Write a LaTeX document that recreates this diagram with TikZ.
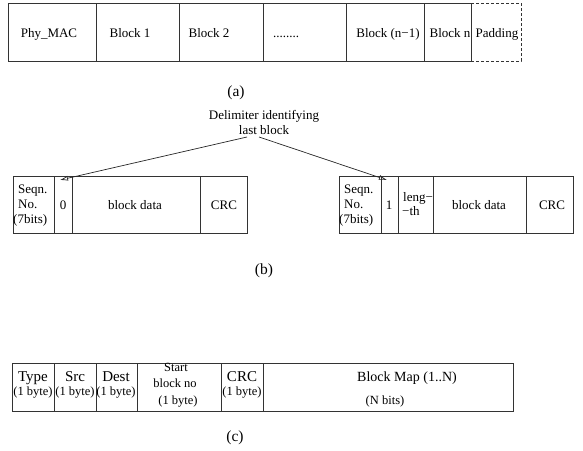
\documentclass[tikz,border=0pt]{standalone}
\usepackage{fontspec}
\setmainfont{Liberation Serif}
\usetikzlibrary{arrows.meta}
\newcommand\cellnode[6]{\node[cellbox, minimum width={(#3)-(#2)}, minimum height={(#5)-(#4)}] (#1) at ({((#2)+(#3))/2},{((#4)+(#5))/2}) {#6};}
\begin{document}
\begin{tikzpicture}[x=1pt,y=-1pt,
  cellbox/.style={draw=black!80, line width=0.9pt, inner sep=0pt, outer sep=0pt},
  padbox/.style={draw=black!80, line width=0.9pt, dashed, dash pattern=on 3pt off 2pt, inner sep=0pt, outer sep=0pt},
  lab/.style={inner sep=0pt, text height=9pt, text depth=3pt, font=\fontsize{13}{15}\selectfont},
  note/.style={inner sep=0pt, align=center, font=\fontsize{13}{15}\selectfont},
  big/.style={inner sep=0pt, text height=10.5pt, text depth=3.5pt, font=\fontsize{15}{17}\selectfont},
  mapfont/.style={inner sep=0pt, text height=10pt, text depth=3.3pt, font=\fontsize{14}{16}\selectfont},
  small/.style={inner sep=0pt, text height=8.7pt, text depth=3pt, font=\fontsize{12.5}{14}\selectfont},
  captext/.style={inner sep=0pt, text height=11pt, text depth=3.5pt, font=\fontsize{15.5}{17}\selectfont},
  pointer/.style={draw=black!85, line width=0.7pt, -{Latex[open,length=8pt,width=5pt]}}
]
\useasboundingbox (0,0) rectangle (583,450);

% (a)
\cellnode{phy}{8}{96}{3}{61}{}
\cellnode{b1}{96}{179}{3}{61}{}
\cellnode{b2}{179}{263}{3}{61}{}
\cellnode{bdots}{263}{346}{3}{61}{}
\cellnode{bn1}{346}{424}{3}{61}{}
\cellnode{bn}{424}{471}{3}{61}{}
\node[padbox, minimum width=50pt, minimum height=58pt] (pad) at (496,32) {};
\node[lab] (tphy) at (49,34) {Phy\_MAC};
\node[lab] (tb1) at (130,34) {Block 1};
\node[lab] (tb2) at (209,34) {Block 2};
\node[lab] (tdots) at (286,34) {........};
\node[lab] (tbn1) at (388,34) {Block (n\textminus1)};
\node[lab] (tbn) at (450,34) {Block n};
\node[lab] (tpad) at (497,34) {Padding};
\node[captext] (capa) at (236,93) {(a)};

% delimiter
\node[note] (delim) at (264,122) {Delimiter identifying\\last block};
\coordinate (srcL) at (247,137);
\coordinate (srcR) at (259,137);
\coordinate (tipL) at (60,180);
\coordinate (tipR) at (387,180);

% (b) left
\cellnode{seqL}{13}{54}{176}{233}{}
\cellnode{bitL}{54}{72}{176}{233}{}
\cellnode{dataL}{72}{200}{176}{233}{}
\cellnode{crcL}{200}{247}{176}{233}{}
\node[lab, anchor=west] (sqL1) at (18,190) {Seqn.};
\node[lab, anchor=west] (sqL2) at (18,205) {No.};
\node[lab, anchor=west] (sqL3) at (13,220) {(7bits)};
\node[lab] (zeroL) at (63,206) {0};
\node[lab] (bdL) at (135,206) {block data};
\node[lab] (crcLt) at (224,206) {CRC};

% (b) right
\cellnode{seqR}{339}{381}{176}{233}{}
\cellnode{bitR}{381}{398}{176}{233}{}
\cellnode{lenR}{398}{433}{176}{233}{}
\cellnode{dataR}{433}{526}{176}{233}{}
\cellnode{crcR}{526}{573}{176}{233}{}
\node[lab, anchor=west] (sqR1) at (344,190) {Seqn.};
\node[lab, anchor=west] (sqR2) at (344,205) {No.};
\node[lab, anchor=west] (sqR3) at (339,220) {(7bits)};
\node[lab] (oneR) at (389,206) {1};
\node[lab, anchor=west] (len1) at (403,198) {leng\textminus};
\node[lab, anchor=west] (len2) at (402,212) {\textminus th};
\node[lab] (bdR) at (479,206) {block data};
\node[lab] (crcRt) at (552,206) {CRC};

\draw[pointer] (srcL) -- (tipL);
\draw[pointer] (srcR) -- (tipR);
\node[captext] (capb) at (264,271) {(b)};

% (c)
\cellnode{type}{12}{54}{363}{411}{}
\cellnode{src}{54}{96}{363}{411}{}
\cellnode{dest}{96}{137}{363}{411}{}
\cellnode{start}{137}{221}{363}{411}{}
\cellnode{crcc}{221}{263}{363}{411}{}
\cellnode{bmap}{263}{513}{363}{411}{}
\node[big] (ttype) at (33,378) {Type};
\node[small] (btype) at (33,393) {(1 byte)};
\node[big] (tsrc) at (75,378) {Src};
\node[small] (bsrc) at (75,393) {(1 byte)};
\node[big] (tdest) at (116,378) {Dest};
\node[small] (bdest) at (116,393) {(1 byte)};
\node[small] (tstart1) at (176,369) {Start};
\node[small] (tstart2) at (175,385) {block no};
\node[small] (bstart) at (178,402) {(1 byte)};
\node[big] (tcrc) at (242,378) {CRC};
\node[small] (bcrc) at (242,393) {(1 byte)};
\node[mapfont] (tbmap) at (407,378) {Block Map (1..N)};
\node[small] (nbits) at (385,402) {(N bits)};
\node[captext] (capc) at (235,438) {(c)};
\end{tikzpicture}
\end{document}
